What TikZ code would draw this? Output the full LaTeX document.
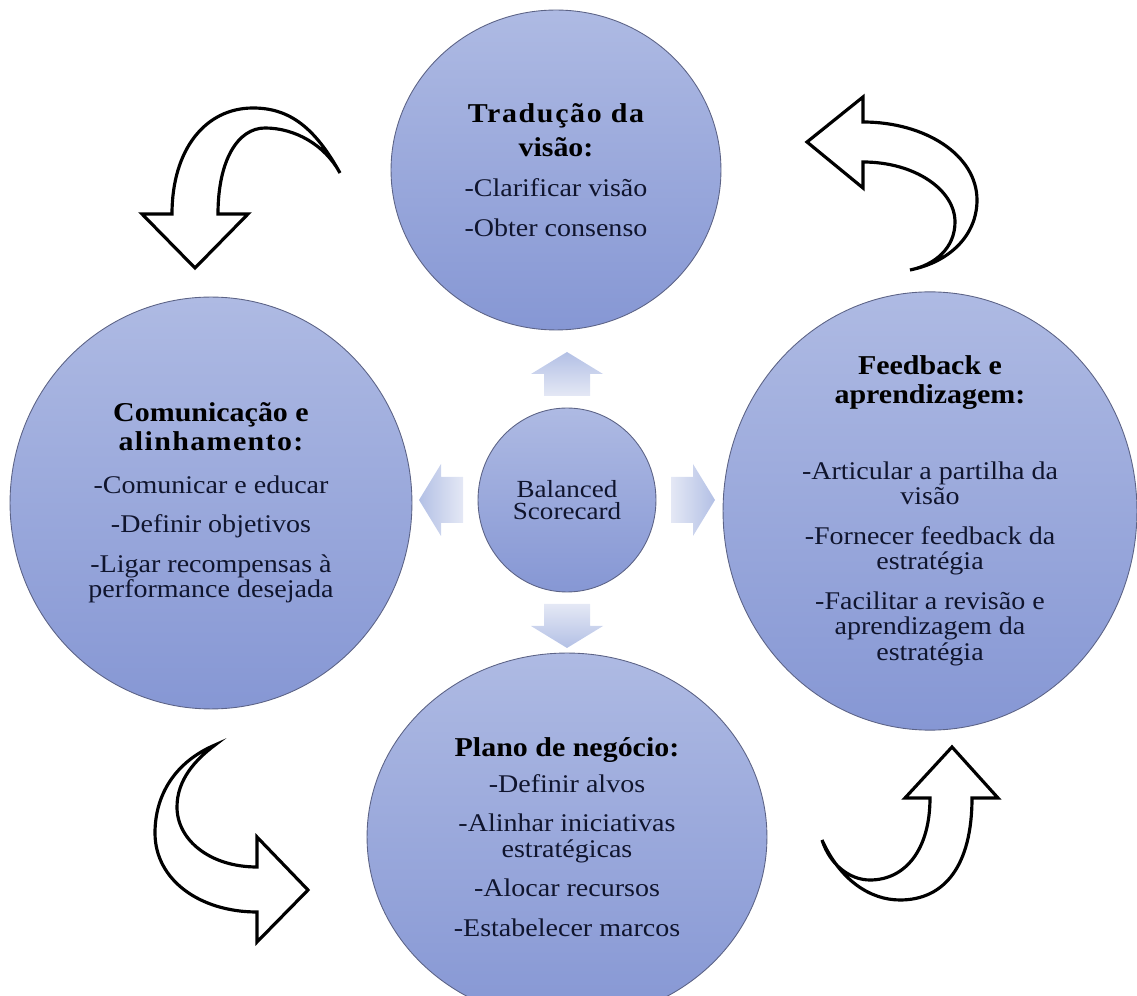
\documentclass[tikz,border=0pt]{standalone}
\usepackage{fontspec}
\setmainfont{Liberation Serif}[FakeStretch=1.1]
\usetikzlibrary{shapes.geometric}

\definecolor{ballTop}{HTML}{AEBAE3}
\definecolor{ballBot}{HTML}{8697D4}
\definecolor{ballEdge}{HTML}{5C6386}
\definecolor{ink}{HTML}{10152E}
\definecolor{spokeTip}{HTML}{B3C0E5}
\definecolor{spokeBase}{HTML}{E4E8F5}

\newcommand{\hd}[1]{{\fontsize{15.5}{14}\selectfont\bfseries\color{black}#1}}
\newcommand{\wide}[2][6]{{\addfontfeature{LetterSpace=#1}#2}}

\begin{document}
\begin{tikzpicture}[
    x=0.02cm, y=-0.02cm,
    ball/.style={ellipse, draw=ballEdge, line width=0.5pt, inner sep=0pt,
        top color=ballTop, bottom color=ballBot, align=center, text=ink,
        font=\fontsize{14.5}{14.5}\selectfont},
    spoke/.style={top color=spokeTip, bottom color=spokeBase},
    turn/.style={draw=black, line width=1.8pt, fill=white, line join=miter},
]
\useasboundingbox (0,0) rectangle (1137,996);

% --- the four stages ---
\node[ball, minimum width=6.6cm, minimum height=6.4cm] (traducao) at (556,170)
    {\hd{\wide{Tradução da}}\\[5pt]\hd{visão:}\\[8pt]-Clarificar visão\\[8pt]-Obter consenso};
\node[ball, minimum width=8.04cm, minimum height=8.24cm] (comunicacao) at (211,503)
    {\hd{Comunicação e}\\[1.5pt]\hd{\wide[5]{alinhamento:}}\\[10pt]-Comunicar e educar\\[8pt]-Definir objetivos\\[8pt]-Ligar recompensas à\\performance desejada};
\node[ball, minimum width=8.28cm, minimum height=7.96cm] (feedback) at (930,511)
    {\hd{Feedback e}\\[1.5pt]\hd{aprendizagem:}\\[29pt]-Articular a partilha da\\visão\\[8pt]-Fornecer feedback da\\estratégia\\[8pt]-Facilitar a revisão e\\aprendizagem da\\estratégia};
\node[ball, minimum width=8cm, minimum height=7.36cm] (plano) at (567,837)
    {\hd{Plano de negócio:}\\[6pt]-Definir alvos\\[8pt]-Alinhar iniciativas\\estratégicas\\[8pt]-Alocar recursos\\[8pt]-Estabelecer marcos};

% --- hub ---
\node[ball, minimum width=3.56cm, minimum height=3.68cm,
      font=\fontsize{14}{12.5}\selectfont] (bsc) at (567,500) {Balanced\\Scorecard};

% --- spokes from the hub (u along the spoke, v across it) ---
\foreach \dx/\dy/\ang in {1/0/-90, 0/-1/0, -1/0/90, 0/1/180} {
    \begin{scope}[shift={(bsc.center)}]
        \shade[spoke, shading angle=\ang]
            ({104*\dx+23*\dy}, {104*\dy-23*\dx}) -- ({126*\dx+23*\dy}, {126*\dy-23*\dx})
            -- ({126*\dx+36*\dy}, {126*\dy-36*\dx}) -- ({148*\dx}, {148*\dy})
            -- ({126*\dx-36*\dy}, {126*\dy+36*\dx}) -- ({126*\dx-23*\dy}, {126*\dy+23*\dx})
            -- ({104*\dx-23*\dy}, {104*\dy+23*\dx}) -- cycle;
    \end{scope}
}

% --- curved arrows between the stages ---
% top left, down to comunicacao
\draw[turn] (340,173) .. controls (315,128) and (290,108) .. (253,108)
    .. controls (205,108) and (172,150) .. (172,214) -- (142,214) -- (195,268)
    -- (248,214) -- (218,214) .. controls (218,160) and (238,128) .. (265,128)
    .. controls (295,128) and (325,145) .. cycle;
% top right, back to traducao
\draw[turn] (910,270) .. controls (950,262) and (977,235) .. (977,200)
    .. controls (977,155) and (925,122) .. (863,122) -- (863,97) -- (807,142)
    -- (863,188) -- (863,162) .. controls (915,162) and (955,190) .. (955,222)
    .. controls (955,248) and (935,265) .. cycle;
% bottom left, over to plano
\draw[turn] (215,745) .. controls (175,762) and (155,795) .. (155,833)
    .. controls (155,880) and (200,912) .. (257,912) -- (257,942) -- (308,890)
    -- (257,837) -- (257,867) .. controls (210,867) and (177,840) .. (177,807)
    .. controls (177,780) and (195,760) .. cycle;
% bottom right, up to feedback
\draw[turn] (822,840) .. controls (840,880) and (870,900) .. (900,900)
    .. controls (945,900) and (972,865) .. (972,798) -- (998,798) -- (952,747)
    -- (905,798) -- (930,798) .. controls (930,850) and (905,880) .. (870,880)
    .. controls (850,880) and (830,865) .. cycle;

\end{tikzpicture}
\end{document}
